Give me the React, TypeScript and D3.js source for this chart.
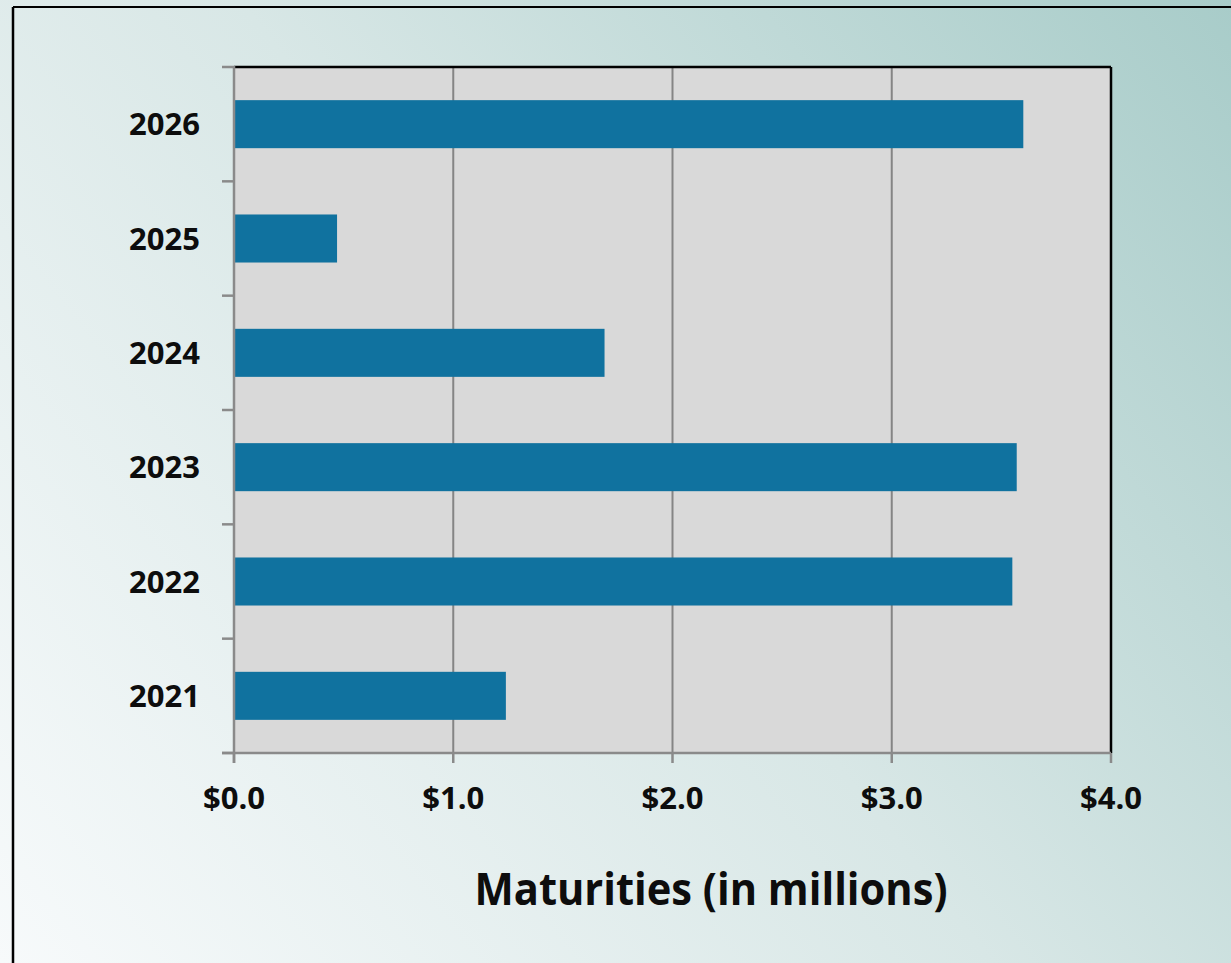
import React from "react";
import * as d3 from "d3";

const categories = ["2026", "2025", "2024", "2023", "2022", "2021"];
const values = [3.6, 0.47, 1.69, 3.57, 3.55, 1.24];
const xTicks = [0, 1, 2, 3, 4];
const xTickLabels = ["$0.0", "$1.0", "$2.0", "$3.0", "$4.0"];
const axisTitle = "Maturities (in millions)";

export default function App() {
  const W = 1231;
  const H = 963;
  const left = 234;
  const right = 1111;
  const top = 67;
  const bottom = 753;

  const x = d3.scaleLinear().domain([0, 4]).range([left, right]);
  const y = d3
    .scaleBand<string>()
    .domain(categories)
    .range([top, bottom])
    .paddingInner(0.58)
    .paddingOuter(0.29);
  const band = (bottom - top) / categories.length;
  const boundaries = d3.range(categories.length + 1).map((i) => top + i * band);
  const font = "'Open Sans', sans-serif";

  return (
    <svg
      width={W}
      height={H}
      style={{ position: "absolute", left: 0, top: 0, display: "block" }}
    >
      <defs>
        <linearGradient id="bg" x1="0" y1={H} x2={W} y2="0" gradientUnits="userSpaceOnUse">
          <stop offset="0" stopColor="#f7fafb" />
          <stop offset="0.5" stopColor="#d8e7e6" />
          <stop offset="1" stopColor="#a8ccc9" />
        </linearGradient>
      </defs>
      <rect x={0} y={0} width={W} height={H} fill="url(#bg)" />
      {/* outer frame */}
      <line x1={13} y1={7} x2={W} y2={7} stroke="#000" strokeWidth={2} />
      <line x1={13} y1={7} x2={13} y2={H} stroke="#000" strokeWidth={2.5} />

      {/* plot area */}
      <rect x={left} y={top} width={right - left} height={bottom - top} fill="#d9d9d9" />

      {/* gridlines */}
      {xTicks.slice(1, -1).map((t) => (
        <line key={t} x1={x(t)} x2={x(t)} y1={top} y2={bottom} stroke="#858585" strokeWidth={2} />
      ))}

      {/* bars */}
      {categories.map((c, i) => (
        <rect
          key={c}
          x={x(0)}
          y={y(c)}
          width={x(values[i]) - x(0)}
          height={y.bandwidth()}
          fill="#10729f"
        />
      ))}

      {/* top & right border */}
      <line x1={left} x2={right} y1={top} y2={top} stroke="#000" strokeWidth={2.5} />
      <line x1={right} x2={right} y1={top} y2={bottom} stroke="#000" strokeWidth={2.5} />

      {/* y axis */}
      <line x1={left} x2={left} y1={top - 1} y2={bottom + 10} stroke="#8a8a8a" strokeWidth={2.5} />
      {boundaries.map((b, i) => (
        <line key={i} x1={left - 12} x2={left} y1={b} y2={b} stroke="#8a8a8a" strokeWidth={2.5} />
      ))}
      {/* x axis */}
      <line x1={left - 12} x2={right} y1={bottom} y2={bottom} stroke="#8a8a8a" strokeWidth={2.5} />
      {xTicks.map((t) => (
        <line key={t} x1={x(t)} x2={x(t)} y1={bottom} y2={bottom + 10} stroke="#8a8a8a" strokeWidth={2.5} />
      ))}

      {/* category labels */}
      {categories.map((c) => (
        <text
          key={c}
          x={200}
          y={(y(c) as number) + y.bandwidth() / 2}
          dy="0.36em"
          textAnchor="end"
          fontFamily={font}
          fontWeight={700}
          fontSize={31}
          fill="#0d0d0d"
        >
          {c}
        </text>
      ))}

      {/* x tick labels */}
      {xTicks.map((t, i) => (
        <text
          key={t}
          x={x(t)}
          y={809}
          textAnchor="middle"
          fontFamily={font}
          fontWeight={700}
          fontSize={31}
          fill="#0d0d0d"
        >
          {xTickLabels[i]}
        </text>
      ))}

      {/* axis title */}
      <text
        x={711}
        y={905}
        textAnchor="middle"
        fontFamily={font}
        fontWeight={700}
        fontSize={44}
        textLength={473}
        lengthAdjust="spacingAndGlyphs"
        fill="#0d0d0d"
      >
        {axisTitle}
      </text>
    </svg>
  );
}
